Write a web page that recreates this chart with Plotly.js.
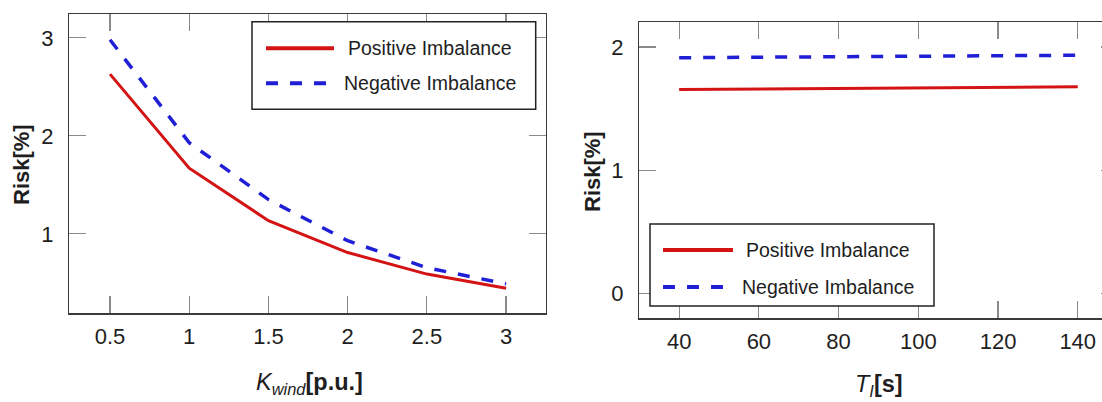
<!DOCTYPE html>
<html>
<head>
<meta charset="utf-8">
<script src="https://cdn.plot.ly/plotly-3.0.1.min.js"></script>
<style>
html, body { margin: 0; padding: 0; overflow: hidden; background: #fff; }
#chart { width: 1140px; height: 402px; }
</style>
</head>
<body>
<div id="chart"></div>
<script>
// ---- data ----
const kWind = [0.5, 1, 1.5, 2, 2.5, 3];
const kWindPositive = [2.63, 1.67, 1.135, 0.81, 0.59, 0.445];
const kWindNegative = [2.98, 1.93, 1.35, 0.93, 0.655, 0.49];

const tI = [40, 60, 80, 100, 120, 140];
const tIPositive = [1.655, 1.659, 1.663, 1.668, 1.672, 1.677];
const tINegative = [1.913, 1.917, 1.921, 1.925, 1.929, 1.933];

const seriesNames = ['Positive Imbalance', 'Negative Imbalance'];

const kTickVals = [0.5, 1, 1.5, 2, 2.5, 3];
const kTickText = ['0.5', '1', '1.5', '2', '2.5', '3'];
const riskTickValsLeft = [1, 2, 3];
const riskTickTextLeft = ['1', '2', '3'];
const tTickVals = [40, 60, 80, 100, 120, 140];
const tTickText = ['40', '60', '80', '100', '120', '140'];
const riskTickValsRight = [0, 1, 2];
const riskTickTextRight = ['0', '1', '2'];

const axisTitles = {
  kWind: '<i>K</i><sub><i>wind</i></sub><b>[p.u.]</b>',
  tI: '<i>T</i><sub><i>I</i></sub><b>[s]</b>',
  risk: '<b>Risk[%]</b>'
};

// ---- styling ----
const W = 1140, H = 402;
const RED = '#d41414';
const BLUE = '#1f1fd6';
const DASH = '12px,12px';
const FONT = 'Liberation Sans, Arial, sans-serif';
const TXT = '#1e1e1e';

const px = v => v / W;
const py = v => 1 - v / H;

const traces = [
  { x: kWind, y: kWindPositive, name: seriesNames[0], type: 'scatter', mode: 'lines',
    line: { color: RED, width: 3 }, xaxis: 'x', yaxis: 'y' },
  { x: kWind, y: kWindNegative, name: seriesNames[1], type: 'scatter', mode: 'lines',
    line: { color: BLUE, width: 3.5, dash: DASH }, xaxis: 'x', yaxis: 'y' },
  { x: tI, y: tIPositive, name: seriesNames[0], type: 'scatter', mode: 'lines',
    line: { color: RED, width: 3 }, xaxis: 'x2', yaxis: 'y2' },
  { x: tI, y: tINegative, name: seriesNames[1], type: 'scatter', mode: 'lines',
    line: { color: BLUE, width: 3.5, dash: DASH }, xaxis: 'x2', yaxis: 'y2' }
];

const axisCommon = {
  showline: true, linecolor: '#3a3a3a', linewidth: 1.5, mirror: 'allticks',
  ticks: 'inside', ticklen: 17, tickwidth: 1.2, tickcolor: '#8a8a8a',
  showgrid: false, zeroline: false, tickmode: 'array',
  tickfont: { family: FONT, size: 22, color: TXT },
  automargin: false
};

// legend boxes drawn in pixel positions (paper coords), one per panel
function legendBox(x0, y0, x1, y1, rowY, lineX0, lineX1, textX) {
  const shapes = [
    { type: 'rect', xref: 'paper', yref: 'paper', x0: px(x0), x1: px(x1), y0: py(y1), y1: py(y0),
      line: { color: '#222', width: 1.5 }, fillcolor: '#fff', layer: 'above' },
    { type: 'line', xref: 'paper', yref: 'paper', x0: px(lineX0), x1: px(lineX1), y0: py(rowY[0]), y1: py(rowY[0]),
      line: { color: RED, width: 4 }, layer: 'above' },
    { type: 'line', xref: 'paper', yref: 'paper', x0: px(lineX0), x1: px(lineX1), y0: py(rowY[1]), y1: py(rowY[1]),
      line: { color: BLUE, width: 4, dash: DASH }, layer: 'above' }
  ];
  const annotations = seriesNames.map((name, i) => ({
    xref: 'paper', yref: 'paper', x: px(textX), y: py(rowY[i]), xanchor: 'center', yanchor: 'middle',
    text: name, showarrow: false, font: { family: FONT, size: 19.5, color: TXT }
  }));
  return { shapes, annotations };
}

const legLeft = legendBox(252, 21.7, 535.7, 109.3, [48.3, 83.3], 266, 334, 430);
const legRight = legendBox(650, 224, 934, 306, [250, 287], 663, 733, 828);

const titleAnnotations = [
  { xref: 'paper', yref: 'paper', x: px(309), y: py(383), xanchor: 'center', yanchor: 'middle',
    text: axisTitles.kWind, showarrow: false, font: { family: FONT, size: 23.5, color: TXT } },
  { xref: 'paper', yref: 'paper', x: px(879), y: py(385), xanchor: 'center', yanchor: 'middle',
    text: axisTitles.tI, showarrow: false, font: { family: FONT, size: 23.5, color: TXT } },
  { xref: 'paper', yref: 'paper', x: px(22), y: py(165), xanchor: 'center', yanchor: 'middle', textangle: -90,
    text: axisTitles.risk, showarrow: false, font: { family: FONT, size: 22, color: TXT } },
  { xref: 'paper', yref: 'paper', x: px(592), y: py(171), xanchor: 'center', yanchor: 'middle', textangle: -90,
    text: axisTitles.risk, showarrow: false, font: { family: FONT, size: 22, color: TXT } }
];

const layout = {
  width: W, height: H,
  margin: { l: 0, r: 0, t: 0, b: 0 },
  paper_bgcolor: '#fff', plot_bgcolor: '#fff',
  font: { family: FONT, color: TXT },
  showlegend: false,
  xaxis: Object.assign({}, axisCommon, {
    domain: [px(69.3), px(545.7)], range: [0.243, 3.25], anchor: 'y',
    tickvals: kTickVals, ticktext: kTickText, ticklabelstandoff: 3
  }),
  yaxis: Object.assign({}, axisCommon, {
    domain: [py(313.3), py(14.3)], range: [0.19, 3.24], anchor: 'x',
    tickvals: riskTickValsLeft, ticktext: riskTickTextLeft, ticklabelstandoff: 10
  }),
  xaxis2: Object.assign({}, axisCommon, {
    domain: [px(639.3), px(1117.6)], range: [30, 150], anchor: 'y2',
    tickvals: tTickVals, ticktext: tTickText, ticklabelstandoff: 3
  }),
  yaxis2: Object.assign({}, axisCommon, {
    domain: [py(318.3), py(22.3)], range: [-0.2, 2.2], anchor: 'x2',
    tickvals: riskTickValsRight, ticktext: riskTickTextRight, ticklabelstandoff: 10
  }),
  shapes: legLeft.shapes.concat(legRight.shapes),
  annotations: titleAnnotations.concat(legLeft.annotations, legRight.annotations)
};

Plotly.newPlot('chart', traces, layout, { displayModeBar: false, staticPlot: true }).then(gd => {
  // drop the empty axis-title placeholders plotly creates
  gd.querySelectorAll('text').forEach(t => { if (!t.textContent.trim()) t.remove(); });
});
</script>
</body>
</html>
